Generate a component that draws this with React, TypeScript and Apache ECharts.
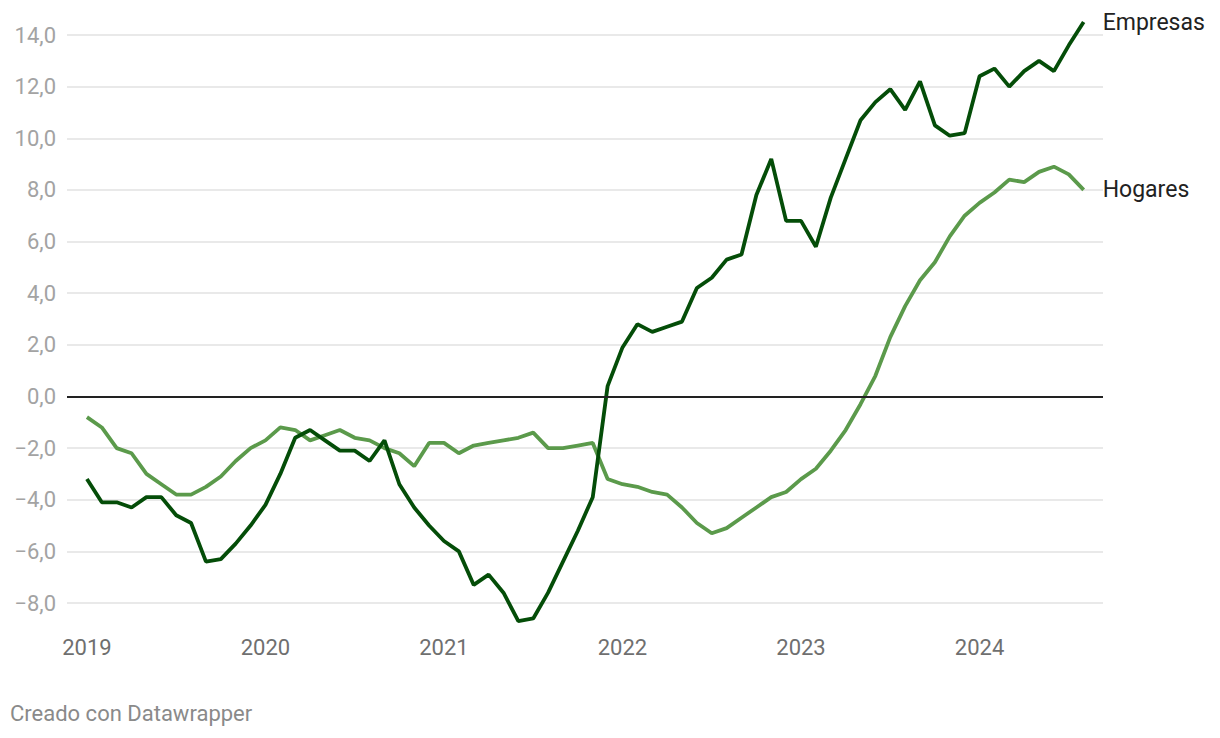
import React, { useEffect, useRef } from "react";
import * as echarts from "echarts";

const startYear = 2019;
const yearTicks = ["2019", "2020", "2021", "2022", "2023", "2024"];

const empresas = [
  -3.2, -4.1, -4.1, -4.3, -3.9, -3.9, -4.6, -4.9, -6.4, -6.3, -5.7, -5.0,
  -4.2, -3.0, -1.6, -1.3, -1.7, -2.1, -2.1, -2.5, -1.7, -3.4, -4.3, -5.0,
  -5.6, -6.0, -7.3, -6.9, -7.6, -8.7, -8.6, -7.6, -6.4, -5.2, -3.9, 0.4,
  1.9, 2.8, 2.5, 2.7, 2.9, 4.2, 4.6, 5.3, 5.5, 7.8, 9.2, 6.8,
  6.8, 5.8, 7.7, 9.2, 10.7, 11.4, 11.9, 11.1, 12.2, 10.5, 10.1, 10.2,
  12.4, 12.7, 12.0, 12.6, 13.0, 12.6, 13.6, 14.5,
];

const hogares = [
  -0.8, -1.2, -2.0, -2.2, -3.0, -3.4, -3.8, -3.8, -3.5, -3.1, -2.5, -2.0,
  -1.7, -1.2, -1.3, -1.7, -1.5, -1.3, -1.6, -1.7, -2.0, -2.2, -2.7, -1.8,
  -1.8, -2.2, -1.9, -1.8, -1.7, -1.6, -1.4, -2.0, -2.0, -1.9, -1.8, -3.2,
  -3.4, -3.5, -3.7, -3.8, -4.3, -4.9, -5.3, -5.1, -4.7, -4.3, -3.9, -3.7,
  -3.2, -2.8, -2.1, -1.3, -0.3, 0.8, 2.3, 3.5, 4.5, 5.2, 6.2, 7.0,
  7.5, 7.9, 8.4, 8.3, 8.7, 8.9, 8.6, 8.0,
];

const seriesNames = ["Empresas", "Hogares"];
const footerText = "Creado con Datawrapper";

const toPairs = (arr: number[]) => arr.map((v, i) => [i, v]);

export default function App() {
  const ref = useRef<HTMLDivElement>(null);
  useEffect(() => {
    if (!ref.current) return;
    const chart = echarts.init(ref.current, null, { renderer: "svg" });
    const font = "Roboto, 'Noto Sans', sans-serif";
    const tickValues = yearTicks.map((_, i) => i * 12);
    chart.setOption({
      animation: false,
      textStyle: { fontFamily: font },
      grid: { left: 67, right: 117, top: 35, bottom: 135, containLabel: false },
      xAxis: {
        type: "value",
        min: -1.34,
        max: 68.3,
        axisLine: { show: false },
        axisTick: { show: false },
        splitLine: { show: false },
        axisLabel: {
          customValues: tickValues,
          formatter: (v: number) => String(startYear + Math.round(v / 12)),
          color: "#6f6f6f",
          fontSize: 22,
          margin: 33,
          fontFamily: font,
        },
      },
      yAxis: {
        type: "value",
        min: -8,
        max: 14,
        interval: 2,
        axisLine: { show: false },
        axisTick: { show: false },
        splitLine: { show: true, lineStyle: { color: "#e2e2e2", width: 1.5 } },
        axisLabel: {
          formatter: (v: number) =>
            (v < 0 ? "\u2212" : "") + Math.abs(v).toFixed(1).replace(".", ","),
          color: "#a3a3a3",
          fontSize: 22,
          margin: 11,
          fontFamily: font,
        },
      },
      series: [
        {
          name: seriesNames[1],
          type: "line",
          data: toPairs(hogares),
          showSymbol: false,
          clip: false,
          lineStyle: { color: "#5b9a4b", width: 3.8 },
          itemStyle: { color: "#5b9a4b" },
          endLabel: {
            show: true,
            formatter: "{a}",
            distance: 19,
            color: "#222222",
            fontSize: 23,
            fontFamily: font,
          },
          markLine: {
            silent: true,
            symbol: "none",
            label: { show: false },
            lineStyle: { color: "#222222", width: 1.8, type: "solid" },
            data: [{ yAxis: 0 }],
          },
          z: 2,
        },
        {
          name: seriesNames[0],
          type: "line",
          data: toPairs(empresas),
          showSymbol: false,
          clip: false,
          lineStyle: { color: "#044d08", width: 3.8 },
          itemStyle: { color: "#044d08" },
          endLabel: {
            show: true,
            formatter: "{a}",
            distance: 19,
            color: "#222222",
            fontSize: 23,
            fontFamily: font,
          },
          z: 3,
        },
      ],
      graphic: [
        {
          type: "text",
          left: 10,
          top: 702,
          style: {
            text: footerText,
            fill: "#8a8a8a",
            fontSize: 22,
            fontFamily: font,
          },
        },
      ],
    });
    return () => chart.dispose();
  }, []);
  return (
    <div
      ref={ref}
      style={{ position: "fixed", left: 0, top: 0, width: 1220, height: 738, background: "#fff" }}
    />
  );
}
